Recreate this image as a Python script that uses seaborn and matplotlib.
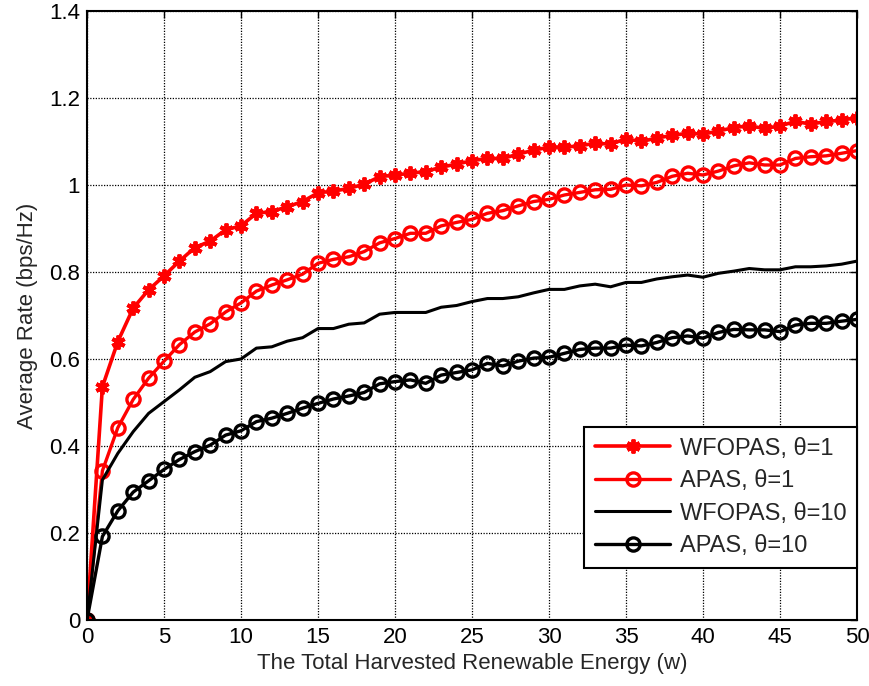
import numpy as np
import matplotlib
matplotlib.use('Agg')
import matplotlib.pyplot as plt
import seaborn as sns

# Datos
energia = list(range(0, 51))

wfopas_t1 = [0, 0.536, 0.64, 0.717, 0.759, 0.791, 0.825, 0.856, 0.871, 0.897, 0.906,
             0.935, 0.939, 0.950, 0.962, 0.982, 0.986, 0.992, 1.002, 1.019, 1.023,
             1.027, 1.031, 1.041, 1.048, 1.056, 1.061, 1.061, 1.071, 1.080, 1.087,
             1.087, 1.090, 1.096, 1.094, 1.106, 1.100, 1.108, 1.114, 1.119, 1.117,
             1.124, 1.132, 1.136, 1.130, 1.136, 1.146, 1.140, 1.146, 1.149, 1.155]

apas_t1 = [0, 0.343, 0.442, 0.507, 0.556, 0.595, 0.633, 0.662, 0.681, 0.708, 0.729,
           0.756, 0.770, 0.782, 0.795, 0.820, 0.829, 0.835, 0.847, 0.867, 0.877,
           0.889, 0.889, 0.906, 0.914, 0.921, 0.935, 0.941, 0.952, 0.962, 0.967,
           0.977, 0.983, 0.989, 0.990, 1.000, 0.998, 1.006, 1.020, 1.027, 1.023,
           1.032, 1.044, 1.051, 1.046, 1.046, 1.061, 1.065, 1.067, 1.073, 1.079]

wfopas_t10 = [0, 0.322, 0.383, 0.433, 0.475, 0.502, 0.529, 0.558, 0.571, 0.594, 0.600,
              0.625, 0.628, 0.641, 0.649, 0.670, 0.670, 0.680, 0.683, 0.703, 0.707,
              0.707, 0.707, 0.719, 0.723, 0.732, 0.739, 0.739, 0.743, 0.752, 0.760,
              0.760, 0.768, 0.772, 0.766, 0.776, 0.776, 0.784, 0.789, 0.793, 0.788,
              0.797, 0.802, 0.808, 0.805, 0.805, 0.812, 0.812, 0.814, 0.818, 0.825]

apas_t10 = [0, 0.192, 0.251, 0.294, 0.320, 0.346, 0.369, 0.387, 0.402, 0.425, 0.435,
            0.456, 0.464, 0.475, 0.487, 0.498, 0.508, 0.515, 0.523, 0.543, 0.548,
            0.552, 0.544, 0.563, 0.569, 0.575, 0.590, 0.584, 0.595, 0.602, 0.604,
            0.613, 0.622, 0.625, 0.625, 0.632, 0.630, 0.638, 0.649, 0.653, 0.648,
            0.661, 0.668, 0.667, 0.667, 0.663, 0.678, 0.682, 0.682, 0.687, 0.691]

etiquetas = ['WFOPAS, \u03b8=1', 'APAS, \u03b8=1', 'WFOPAS, \u03b8=10', 'APAS, \u03b8=10']

xticks = [0, 5, 10, 15, 20, 25, 30, 35, 40, 45, 50]
yticks = [0, 0.2, 0.4, 0.6, 0.8, 1.0, 1.2, 1.4]
ytick_labels = ['0', '0.2', '0.4', '0.6', '0.8', '1', '1.2', '1.4']

sns.set_style('white')
plt.rcParams['font.family'] = ['Liberation Sans', 'DejaVu Sans']

fig = plt.figure(figsize=(8.69, 6.86), dpi=100)
ax = fig.add_axes([87 / 869, 66 / 686, 770 / 869, 609 / 686])

# Curvas
sns.lineplot(x=energia, y=wfopas_t1, ax=ax, color='red', linewidth=2.6,
             marker=(6, 2, 0), markersize=10, markeredgewidth=2.8,
             markeredgecolor='red', label=etiquetas[0])
sns.lineplot(x=energia, y=apas_t1, ax=ax, color='red', linewidth=2.4,
             marker='o', markersize=9.5, markerfacecolor='none',
             markeredgewidth=2.4, markeredgecolor='red', label=etiquetas[1])
sns.lineplot(x=energia, y=wfopas_t10, ax=ax, color='black', linewidth=2.2,
             label=etiquetas[2])
sns.lineplot(x=energia, y=apas_t10, ax=ax, color='black', linewidth=2.4,
             marker='o', markersize=9.5, markerfacecolor='none',
             markeredgewidth=2.4, markeredgecolor='black', label=etiquetas[3])

ax.set_xlim(0, 50)
ax.set_ylim(0, 1.4)
ax.set_xticks(xticks)
ax.set_yticks(yticks)
ax.set_yticklabels(ytick_labels)

ax.grid(True, color='black', linestyle=(0, (1, 1.2)), linewidth=0.9)
ax.set_axisbelow(True)
for sp in ax.spines.values():
    sp.set_visible(True)
    sp.set_color('black')
    sp.set_linewidth(1.5)
ax.tick_params(direction='in', length=5, width=1, top=True, right=True,
               labelsize=16, colors='black', pad=5)

ax.set_xlabel('The Total Harvested Renewable Energy (w)', fontsize=16, labelpad=4)
ax.set_ylabel('Average Rate (bps/Hz)', fontsize=16, labelpad=8)

leg = ax.legend(loc='lower right', bbox_to_anchor=(1.0, 52 / 609), borderaxespad=0,
                fontsize=17, fancybox=False, framealpha=1, edgecolor='black',
                handlelength=3.2, handletextpad=0.4, labelspacing=0.45,
                borderpad=0.45)
leg.get_frame().set_linewidth(1.5)

fig.savefig('out.png', dpi=100)
